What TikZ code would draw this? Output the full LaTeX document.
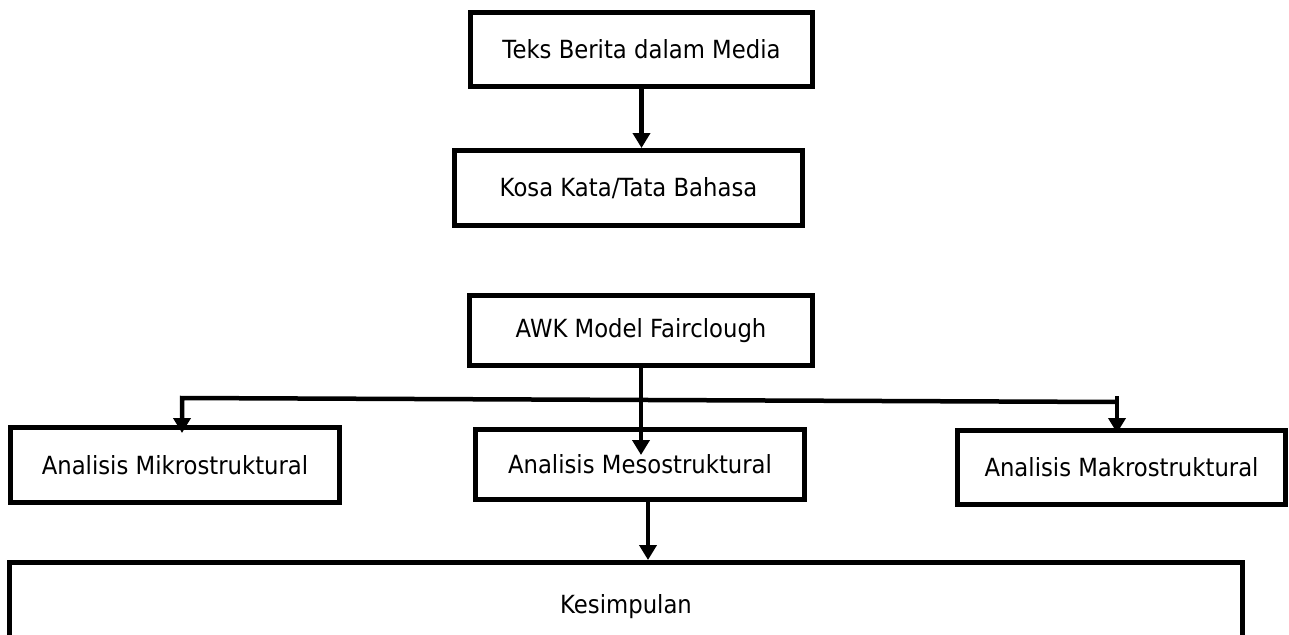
\documentclass[tikz,border=0pt]{standalone}
\usepackage{fontspec}
\setmainfont{DejaVu Sans}[FakeStretch=0.91]
\usetikzlibrary{arrows.meta}
\begin{document}
\begin{tikzpicture}[x=1pt,y=-1pt,
  box/.style={draw=black, line width=5pt, fill=none, inner sep=0pt, align=center,
    font=\fontsize{25}{29}\selectfont},
  conn/.style={line width=4.5pt},
  tipstyle/.style={-{Triangle[length=15pt,width=17pt]}},
  arr/.style={conn, tipstyle}]
\useasboundingbox (0,0) rectangle (1289,634);
\clip (0,0) rectangle (1289,634);
\node[box, minimum width=342pt, minimum height=74pt] (teks) at (641.5,49.5) {Teks Berita dalam Media};
\node[box, minimum width=348pt, minimum height=75pt] (kosa) at (628.5,188) {Kosa Kata/Tata Bahasa};
\node[box, minimum width=343pt, minimum height=70pt] (awk) at (641,330.5) {AWK Model Fairclough};
\node[box, minimum width=329pt, minimum height=75pt] (mikro) at (175,465) {Analisis Mikrostruktural};
\node[box, minimum width=329pt, minimum height=70pt] (meso) at (640,464.5) {Analisis Mesostruktural};
\node[box, minimum width=328pt, minimum height=74pt] (makro) at (1121.5,467.5) {Analisis Makrostruktural};
\node[box, minimum width=1233pt, minimum height=89pt] (kes) at (626,607) {Kesimpulan};
\coordinate (bl) at (182,398);
\coordinate (br) at (1117,402);
\coordinate (makrotop) at (1117,396);
\coordinate (mikrotip) at (182,433);
\coordinate (makrotip) at (1117,433);
\coordinate (mesotip) at (641,455);
\draw[arr] (teks.south) -- (teks.south |- kosa.north);
\draw[arr] (awk.south) -- (mesotip);
\draw[conn, line join=miter] (mikrotip) ++(0,-10) -- (bl) -- (br);
\draw[arr] (bl) -- (mikrotip);
\draw[arr] (makrotop) -- (makrotip);
\draw[arr] ([xshift=8pt]meso.south) -- ([xshift=8pt]meso.south |- kes.north);
\end{tikzpicture}
\end{document}
